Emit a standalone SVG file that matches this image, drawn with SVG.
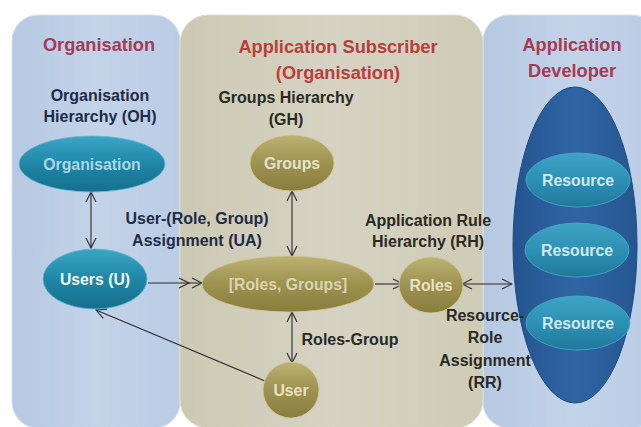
<svg xmlns="http://www.w3.org/2000/svg" width="641" height="427" viewBox="0 0 641 427">
<defs>
<linearGradient id="gBluePanel" x1="0" y1="0" x2="1" y2="0">
<stop offset="0" stop-color="#b6c9e2"/><stop offset="0.5" stop-color="#c3d3e8"/><stop offset="1" stop-color="#bacde5"/>
</linearGradient>
<linearGradient id="gTanPanel" x1="0" y1="0" x2="1" y2="0">
<stop offset="0" stop-color="#ccc9b3"/><stop offset="0.5" stop-color="#d6d3c3"/><stop offset="1" stop-color="#cecbb6"/>
</linearGradient>
<linearGradient id="gTeal" x1="0" y1="0" x2="0" y2="1">
<stop offset="0" stop-color="#3aa6c6"/><stop offset="0.5" stop-color="#1f86a6"/><stop offset="1" stop-color="#166f8c"/>
</linearGradient>
<linearGradient id="gTan" x1="0" y1="0" x2="0" y2="1">
<stop offset="0" stop-color="#bcb273"/><stop offset="0.5" stop-color="#9d924f"/><stop offset="1" stop-color="#887d3e"/>
</linearGradient>
<linearGradient id="gBig" x1="0" y1="0" x2="1" y2="0">
<stop offset="0" stop-color="#24548f"/><stop offset="0.5" stop-color="#2f65a5"/><stop offset="1" stop-color="#25568f"/>
</linearGradient>
<linearGradient id="gRes" x1="0" y1="0" x2="0" y2="1">
<stop offset="0" stop-color="#3ea3c4"/><stop offset="0.55" stop-color="#2a8fb2"/><stop offset="1" stop-color="#21789a"/>
</linearGradient>
<marker id="ah" viewBox="0 0 12 12" refX="11" refY="6" markerWidth="12" markerHeight="12" markerUnits="userSpaceOnUse" orient="auto-start-reverse">
<path d="M1,1 L11,6 L1,11" fill="none" stroke="#2b2b2b" stroke-width="1.1"/>
</marker>
<style>
.hdr{font-family:"Liberation Sans",Arial,sans-serif;font-weight:bold;font-size:18.2px;text-anchor:middle}
.lbl{font-family:"Liberation Sans",Arial,sans-serif;font-weight:bold;font-size:16px;text-anchor:middle}
.nl{font-family:"Liberation Sans",Arial,sans-serif;font-weight:bold;font-size:15.8px;text-anchor:middle}
.cn{fill:none;stroke:#2b2b2b;stroke-width:1.1}
</style>
</defs>

<g id="panel-organisation">
<rect x="12" y="15" width="168" height="413" rx="26" fill="url(#gBluePanel)" stroke="#d4e0ef" stroke-width="1"/>
<text class="hdr" x="99" y="51" fill="#a63a54">Organisation</text>
<text class="lbl" x="100" y="101" fill="#1e2b47">Organisation</text>
<text class="lbl" x="100" y="122" fill="#1e2b47">Hierarchy (OH)</text>
</g>
<g id="panel-developer">
<rect x="483" y="15" width="175" height="413" rx="26" fill="url(#gBluePanel)" stroke="#d4e0ef" stroke-width="1"/>
<text class="hdr" x="572" y="51" fill="#a63a54">Application</text>
<text class="hdr" x="572" y="77" fill="#a63a54">Developer</text>
</g>
<g id="panel-subscriber">
<rect x="180" y="15" width="303" height="413" rx="28" fill="url(#gTanPanel)" stroke="#e2dfcf" stroke-width="1"/>
<text class="hdr" x="338" y="53" fill="#b8403c">Application Subscriber</text>
<text class="hdr" x="338" y="79" fill="#b8403c">(Organisation)</text>
<text class="lbl" x="286" y="103" fill="#2b2a22">Groups Hierarchy</text>
<text class="lbl" x="286" y="125" fill="#2b2a22">(GH)</text>
</g>

<g id="connectors">
<line class="cn" x1="91" y1="192" x2="91" y2="248" marker-start="url(#ah)" marker-end="url(#ah)"/>
<line class="cn" x1="148" y1="283" x2="202" y2="283" stroke-width="1.5" marker-end="url(#ah)"/>
<path class="cn" d="M179,278 L189,283 L179,288"/>
<line class="cn" x1="292" y1="191" x2="292" y2="256" marker-start="url(#ah)" marker-end="url(#ah)"/>
<line class="cn" x1="375" y1="284" x2="403" y2="284" marker-end="url(#ah)"/>
<line class="cn" x1="462" y1="284" x2="512" y2="284" marker-start="url(#ah)" marker-end="url(#ah)"/>
<line class="cn" x1="292" y1="312" x2="292" y2="363" marker-start="url(#ah)" marker-end="url(#ah)"/>
<line class="cn" x1="265" y1="381" x2="96" y2="310" marker-end="url(#ah)"/>
</g>

<g id="node-organisation">
<ellipse cx="92" cy="164" rx="73" ry="28" fill="url(#gTeal)" stroke="#5fb6d0" stroke-width="0.8"/>
<text class="nl" x="92" y="170" fill="#a9d6e6">Organisation</text>
</g>
<g id="node-users">
<ellipse cx="95" cy="279" rx="52" ry="30" fill="url(#gTeal)" stroke="#5fb6d0" stroke-width="0.8"/>
<text class="nl" x="95" y="285" fill="#eef7fb">Users (U)</text>
</g>
<g id="node-groups">
<ellipse cx="292" cy="163" rx="42" ry="28" fill="url(#gTan)" stroke="#d2c88f" stroke-width="0.8"/>
<text class="nl" x="292" y="169" fill="#e6e2c8">Groups</text>
</g>
<g id="node-roles-groups">
<ellipse cx="288" cy="284" rx="86" ry="28" fill="url(#gTan)" stroke="#d2c88f" stroke-width="0.8"/>
<text class="nl" x="288" y="290" fill="#d9d4b0">[Roles, Groups]</text>
</g>
<g id="node-roles">
<ellipse cx="431" cy="285" rx="32" ry="28" fill="url(#gTan)" stroke="#d2c88f" stroke-width="0.8"/>
<text class="nl" x="431" y="291" fill="#e6e2c8">Roles</text>
</g>
<g id="node-user">
<ellipse cx="291" cy="390" rx="28" ry="28" fill="url(#gTan)" stroke="#d2c88f" stroke-width="0.8"/>
<text class="nl" x="291" y="396" fill="#e6e2c8">User</text>
</g>
<g id="node-resources">
<ellipse cx="575" cy="245" rx="62" ry="158" fill="url(#gBig)" stroke="#1d4a80" stroke-width="1"/>
<ellipse cx="578" cy="180" rx="52" ry="27" fill="url(#gRes)" stroke="#4aa9c9" stroke-width="0.8"/>
<text class="nl" x="578" y="186" fill="#cfe8f2">Resource</text>
<ellipse cx="577" cy="250" rx="52" ry="27" fill="url(#gRes)" stroke="#4aa9c9" stroke-width="0.8"/>
<text class="nl" x="577" y="256" fill="#cfe8f2">Resource</text>
<ellipse cx="578" cy="323" rx="52" ry="27" fill="url(#gRes)" stroke="#4aa9c9" stroke-width="0.8"/>
<text class="nl" x="578" y="329" fill="#cfe8f2">Resource</text>
</g>

<g id="labels">
<text class="lbl" x="197" y="224" fill="#1e2b47">User-(Role, Group)</text>
<text class="lbl" x="197" y="246" fill="#1e2b47">Assignment (UA)</text>
<text class="lbl" x="428" y="226" fill="#2b2a22">Application Rule</text>
<text class="lbl" x="428" y="247" fill="#2b2a22">Hierarchy (RH)</text>
<text class="lbl" x="350" y="345" fill="#2b2a22">Roles-Group</text>
<text class="lbl" x="485" y="321" fill="#2b2a22">Resource-</text>
<text class="lbl" x="485" y="343" fill="#2b2a22">Role</text>
<text class="lbl" x="485" y="366" fill="#2b2a22">Assignment</text>
<text class="lbl" x="485" y="388" fill="#2b2a22">(RR)</text>
</g>
</svg>
